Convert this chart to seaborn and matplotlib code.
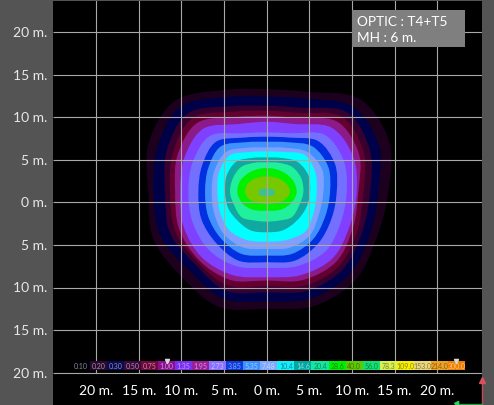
import matplotlib
matplotlib.use('Agg')
import matplotlib.pyplot as plt
import numpy as np
import seaborn as sns
from matplotlib.colors import ListedColormap
from matplotlib.patches import PathPatch, Rectangle
from matplotlib.path import Path

W, H = 494, 406
GREY = '#545454'
GRID = '#a8a8a8'
FONT = 'Lato'

SCALE_LABELS = ['0.10', '0.20', '0.30', '0.50', '0.75', '1.00', '1.35', '1.95',
                '2.73', '3.85', '5.35', '7.48', '10.4', '14.6', '20.4', '28.6',
                '40.0', '56.0', '78.3', '109.0', '153.0', '214.0', '300.0']
SCALE_COLORS = ['#000008', '#2a0a2e', '#0a0a50', '#3a0a3a', '#70083c', '#8a1090',
                '#7a30f0', '#98209a', '#8a70ff', '#0a3ce0', '#3a90ff', '#80a8ff',
                '#10f0ff', '#00a8a0', '#10e8a0', '#00f000', '#60c800', '#10e070',
                '#d8f050', '#f8f000', '#e8d878', '#f0a020', '#f08000']

ISO_COLORS = ['#1c001e', '#000048', '#38002e', '#640030', '#8c1a88', '#8040ff',
              '#7470ff', '#0030e0', '#4090ff', '#80a0ff', '#00ffff', '#10a8a0',
              '#20f09c', '#00f000', '#78c800', '#40c090']

# outline radii of each band, read every 22.5 deg from east going ccw, in crop px
ISO_RADII = [
    [365, 398, 396, 327, 310, 333, 389, 384, 355, 368, 360, 373, 350, 370, 375, 357],
    [335, 365, 365, 305, 288, 310, 365, 355, 340, 345, 330, 345, 328, 345, 350, 335],
    [310, 335, 340, 275, 260, 280, 335, 325, 305, 315, 305, 320, 300, 320, 325, 310],
    [290, 315, 320, 258, 245, 262, 315, 305, 290, 298, 295, 303, 282, 303, 310, 295],
    [275, 300, 300, 242, 230, 245, 295, 290, 275, 285, 288, 285, 265, 285, 295, 280],
    [270, 281, 275, 222, 212, 222, 270, 268, 260, 270, 276, 269, 255, 269, 280, 269],
    [240, 250, 245, 192, 180, 192, 240, 240, 235, 240, 245, 240, 227, 240, 250, 240],
    [210, 222, 218, 178, 167, 178, 215, 210, 205, 212, 215, 222, 210, 222, 218, 210],
    [190, 200, 195, 163, 152, 163, 195, 190, 185, 190, 195, 200, 190, 200, 198, 190],
    [170, 180, 172, 145, 135, 145, 172, 170, 165, 170, 180, 180, 170, 180, 183, 170],
    [150, 158, 160, 131, 123, 131, 157, 155, 148, 152, 160, 155, 148, 155, 165, 153],
    [130, 135, 130, 112, 105, 112, 130, 130, 125, 125, 122, 124, 120, 124, 124, 127],
    [110, 112, 108, 96, 90, 96, 108, 110, 110, 105, 106, 92, 88, 92, 106, 105],
    [90, 87, 80, 75, 73, 75, 80, 87, 88, 81, 70, 60, 55, 60, 70, 81],
    [70, 65, 56, 50, 48, 50, 56, 63, 65, 56, 44, 37, 35, 37, 44, 58],
    [25, 22, 15, 12, 12, 12, 15, 22, 25, 22, 15, 12, 12, 12, 15, 22],
]
CROP_PX_PER_M = 25.6
ISO_CENTER = (0.0, 1.17)

GRID_M = [-20, -15, -10, -5, 0, 5, 10, 15, 20]
TICK_LABELS = ['20 m.', '15 m.', '10 m.', '5 m.', '0 m.', '5 m.', '10 m.', '15 m.', '20 m.']
INFO_LINES = ['OPTIC : T4+T5', 'MH : 6 m.']


def smooth_outline(radii):
    # closed bezier path going through every read point
    angles = np.deg2rad(np.arange(16) * 22.5)
    r = np.asarray(radii) / CROP_PX_PER_M
    pts = np.column_stack([ISO_CENTER[0] + r * np.cos(angles),
                           ISO_CENTER[1] + r * np.sin(angles)])
    before = np.roll(pts, 1, axis=0)
    after = np.roll(pts, -1, axis=0)
    after2 = np.roll(pts, -2, axis=0)
    verts = [pts[0]]
    codes = [Path.MOVETO]
    for p0, p1, p2, p3 in zip(before, pts, after, after2):
        verts += [p1 + (p2 - p0) / 6, p2 - (p3 - p1) / 6, p2]
        codes += [Path.CURVE4] * 3
    return Path(verts, codes)


def px_axes(fig, x0, y0, x1, y1, **kw):
    return fig.add_axes([x0 / W, 1 - y1 / H, (x1 - x0) / W, (y1 - y0) / H], **kw)


sns.set_style('white')
plt.rcParams['font.family'] = [FONT, 'DejaVu Sans']

fig = plt.figure(figsize=(W / 100, H / 100), dpi=100, facecolor=GREY)

ax = px_axes(fig, 53, 2, 482, 406, facecolor='black')
x0 = (53 - 266.7) / 8.53
x1 = (482 - 266.7) / 8.53
ax.set_xlim(x0, x1)
ax.set_ylim((203.3 - 406) / 8.52, (203.3 - 2) / 8.52)
for s in ax.spines.values():
    s.set_visible(False)
ax.set_xticks([])
ax.set_yticks([])

for radii, color in zip(ISO_RADII, ISO_COLORS):
    ax.add_patch(PathPatch(smooth_outline(radii), facecolor=color, edgecolor='none', zorder=2))

ax.hlines(GRID_M, x0, x1, color=GRID, lw=0.8, zorder=3)
ax.vlines(GRID_M, -20, 30, color=GRID, lw=0.8, zorder=3)

for v, label in zip(GRID_M, TICK_LABELS):
    ax.text(v, -22.0, label, color='white', fontsize=10, ha='center', va='center', zorder=5)

for v, label in zip(GRID_M[::-1], TICK_LABELS):
    fig.text(47 / W, 1 - (203.3 - v * 8.52) / H, label, color='#e8e8e8', fontsize=10,
             ha='right', va='center')

# info box
box_x0 = (352 - 266.7) / 8.53
box_y1 = (203.3 - 11) / 8.52
ax.add_patch(Rectangle((box_x0, box_y1 - 37 / 8.52), 113 / 8.53, 37 / 8.52,
                       facecolor='#7f7f7f', edgecolor='none', zorder=6))
for i, line in enumerate(INFO_LINES):
    ax.text(box_x0 + 5 / 8.53, box_y1 - (11 + 16 * i) / 8.52, line, color='white', fontsize=9.8,
            ha='left', va='center', zorder=7)

# colour scale strip
ax_scale = px_axes(fig, 72.7, 362, 465, 371)
codes_row = np.arange(len(SCALE_LABELS)).reshape(1, -1)
sns.heatmap(codes_row, ax=ax_scale, cmap=ListedColormap(SCALE_COLORS), cbar=False,
            annot=np.array(SCALE_LABELS).reshape(1, -1), fmt='',
            annot_kws={'fontsize': 5, 'alpha': 0.55},
            xticklabels=False, yticklabels=False)
ax_scale.plot([5.5, 22.5], [0.05, 0.05], ls='none', marker='v', ms=3, color='#d8d8d8', clip_on=False)

# axis gizmo in the corner
ax.plot([x1, x1], [-23.8, -20.9], color='#c84a58', lw=1, clip_on=False, zorder=8)
ax.plot([x1], [-20.9], marker='^', ms=4, color='#d85060', clip_on=False, zorder=8)
ax.plot([x1 - 3.0, x1], [-23.7, -23.7], color='#20a040', lw=1, clip_on=False, zorder=8)
ax.plot([x1 - 3.0], [-23.5], marker='<', ms=3, color='#30d060', clip_on=False, zorder=8)

fig.savefig('out.png', dpi=100, facecolor=fig.get_facecolor())
